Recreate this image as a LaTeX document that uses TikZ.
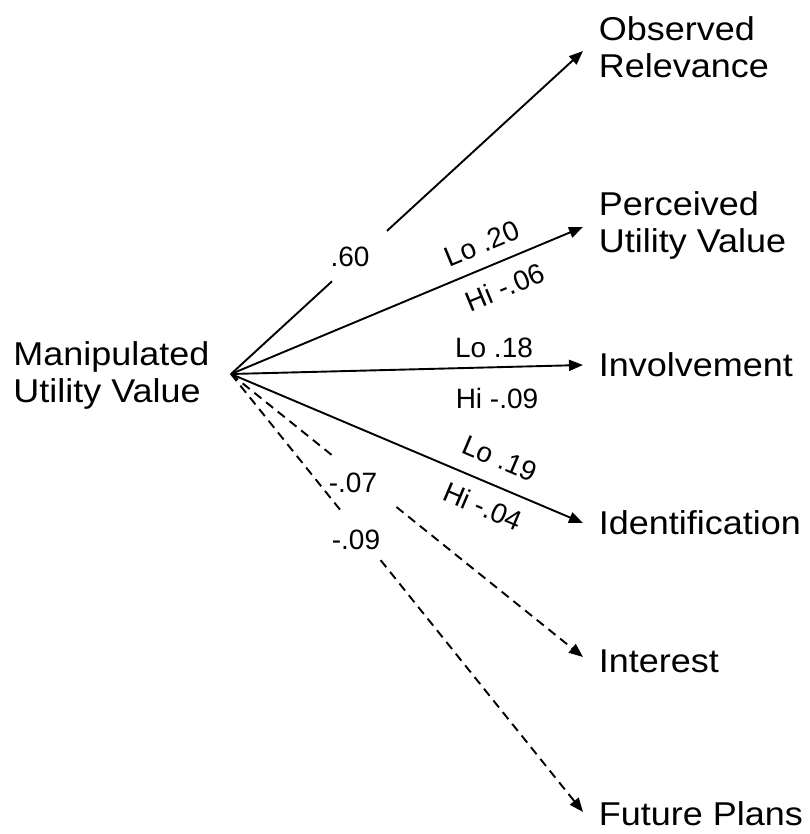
\documentclass[tikz,border=0pt]{standalone}
\usepackage{fontspec}
\setmainfont{Liberation Sans}
\newfontfamily\bigfont[FakeStretch=1.09]{Liberation Sans}
\usetikzlibrary{arrows.meta,calc}

\begin{document}
\begin{tikzpicture}[x=1pt,y=-1pt,
  line width=1.9pt,
  tip/.style={-{Triangle[length=14pt,width=11pt]}},
  dashedline/.style={dash pattern=on 9pt off 6pt},
  varname/.style={font=\bigfont\fontsize{33}{37}\selectfont, inner sep=0pt, align=left, anchor=base west},
  coef/.style={font=\fontsize{28}{32}\selectfont, inner sep=0pt},
]
\useasboundingbox (0,0) rectangle (809,834);

% variables (base anchor sits on the last line)
\node[varname] (muv) at (12.5,402) {Manipulated\\Utility Value};
\node[varname] (obs) at (598,78)  {Observed\\Relevance};
\node[varname] (per) at (598,252) {Perceived\\Utility Value};
\node[varname] (inv) at (598,376) {Involvement};
\node[varname] (ide) at (598,534) {Identification};
\node[varname] (int) at (598,672) {Interest};
\node[varname] (fut) at (598,825) {Future Plans};

% path end points
\coordinate (src)  at (231,374);
\coordinate (tObs) at (583,51);
\coordinate (tPer) at (583,227);
\coordinate (tInv) at (583,365);
\coordinate (tIde) at (583,523);
\coordinate (tInt) at (583,657);
\coordinate (tFut) at (583,812);

% paths
\draw (src) -- ($(src)!0.287!(tObs)$);
\draw[tip] ($(src)!0.443!(tObs)$) -- (tObs);
\draw[tip] (src) -- (tPer);
\draw[tip] (src) -- (tInv);
\draw[tip] (src) -- (tIde);
\draw[dashedline] (src) -- ($(src)!0.29!(tInt)$);
\draw[dashedline,tip] ($(src)!0.47!(tInt)$) -- (tInt);
\draw[dashedline] (src) -- ($(src)!0.316!(tFut)$);
\draw[dashedline,tip] ($(src)!0.425!(tFut)$) -- (tFut);

% coefficients
\node[coef] (c1) at (350,257) {.60};
\node[coef,rotate=22.5] (c2) at (482,244) {Lo .20};
\node[coef,rotate=22.5] (c3) at (505,287) {Hi -.06};
\node[coef] (c4) at (494,348) {Lo .18};
\node[coef] (c5) at (497,398) {Hi -.09};
\node[coef,rotate=-23] (c6) at (500,459) {Lo .19};
\node[coef,rotate=-23] (c7) at (483,506) {Hi -.04};
\node[coef] (c8) at (353,483) {-.07};
\node[coef] (c9) at (356,540) {-.09};
\end{tikzpicture}
\end{document}
